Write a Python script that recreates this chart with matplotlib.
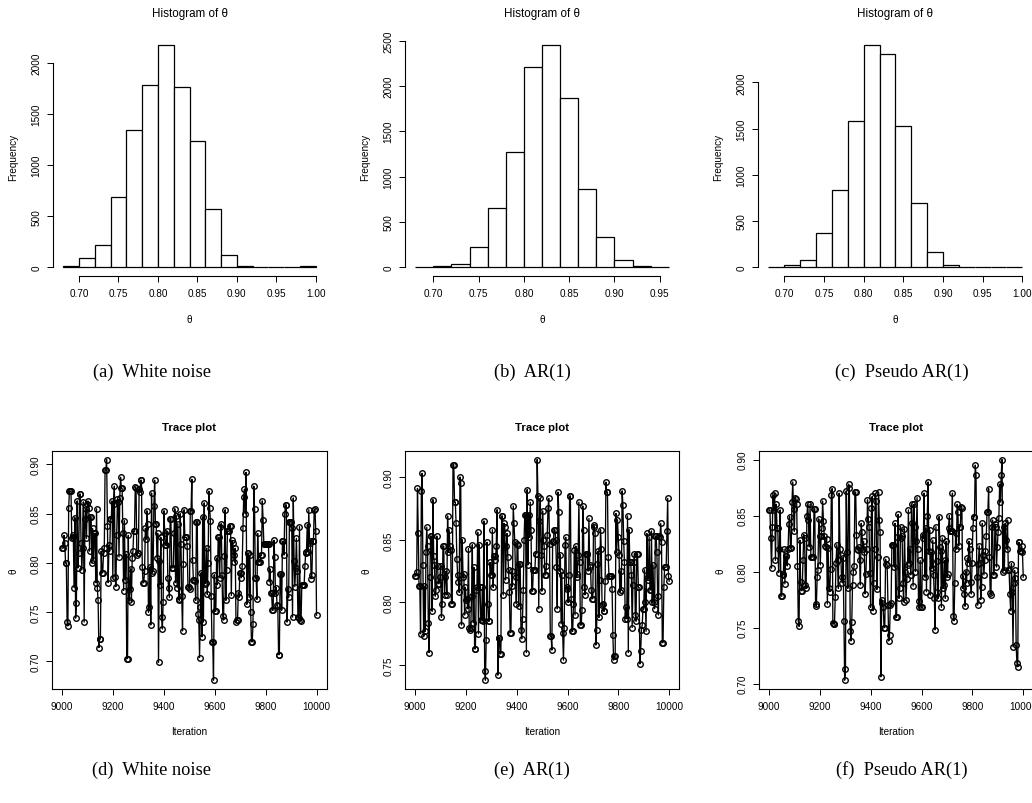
import numpy as np
import matplotlib
matplotlib.use("Agg")
import matplotlib.pyplot as plt

# ---------------------------------------------------------------- data
bin_start = 0.68
bin_width = 0.02

# histogram counts of theta (10000 draws each)
counts_white = [10, 85, 219, 683, 1343, 1781, 2173, 1761, 1232, 569, 118, 15, 5, 2, 3, 8]
counts_ar1 = [3, 8, 40, 225, 652, 1267, 2213, 2448, 1870, 862, 331, 74, 8, 3]
counts_pseudo = [3, 25, 79, 372, 830, 1585, 2401, 2303, 1531, 690, 159, 18, 6, 2, 1, 4]

hist_xticks = [
    [0.70, 0.75, 0.80, 0.85, 0.90, 0.95, 1.00],
    [0.70, 0.75, 0.80, 0.85, 0.90, 0.95],
    [0.70, 0.75, 0.80, 0.85, 0.90, 0.95, 1.00],
]
hist_yticks = [
    [0, 500, 1000, 1500, 2000],
    [0, 500, 1000, 1500, 2000, 2500],
    [0, 500, 1000, 1500, 2000],
]

# last 1000 iterations of each chain
trace_white = [
    0.815, 0.815, 0.828, 0.820, 0.800, 0.800, 0.740, 0.736, 0.856, 0.873, 0.873, 0.873,
    0.825, 0.826, 0.828, 0.775, 0.846, 0.744, 0.759, 0.863, 0.795, 0.810, 0.870, 0.870,
    0.820, 0.793, 0.815, 0.862, 0.740, 0.845, 0.855,
    0.825, 0.860, 0.863, 0.856, 0.812, 0.847, 0.847, 0.800, 0.835, 0.803, 0.830, 0.830,
    0.780, 0.855, 0.775, 0.762, 0.714, 0.723, 0.723, 0.812, 0.790, 0.790, 0.810,
    0.815, 0.894, 0.894, 0.905, 0.838, 0.780, 0.818, 0.812, 0.845, 0.845, 0.863, 0.785,
    0.860, 0.878, 0.786, 0.776, 0.828, 0.865, 0.862, 0.806, 0.866, 0.887, 0.876, 0.876,
    0.830, 0.772,
    0.843, 0.783, 0.809, 0.703, 0.703, 0.828, 0.762, 0.774, 0.794, 0.760, 0.805, 0.812,
    0.832, 0.832, 0.877, 0.876, 0.808, 0.810, 0.810, 0.875, 0.872, 0.884, 0.884, 0.796,
    0.780, 0.780, 0.792,
    0.835, 0.824, 0.853, 0.840, 0.750, 0.755, 0.796, 0.737, 0.871, 0.790, 0.792, 0.858,
    0.884, 0.840, 0.840, 0.805, 0.830, 0.699, 0.802, 0.778, 0.826, 0.745, 0.733, 0.760,
    0.853, 0.830,
    0.818, 0.818, 0.832, 0.785, 0.775, 0.765, 0.845, 0.845, 0.795, 0.795, 0.795, 0.830,
    0.855, 0.780, 0.848, 0.775, 0.840, 0.763, 0.762, 0.850, 0.819, 0.766, 0.731, 0.799,
    0.854, 0.826, 0.826, 0.826, 0.817,
    0.776, 0.776, 0.774, 0.853, 0.853, 0.885, 0.803, 0.783, 0.783, 0.782, 0.762, 0.842,
    0.842, 0.748, 0.742, 0.704, 0.755, 0.790, 0.725, 0.847, 0.740, 0.861, 0.779, 0.780,
    0.815, 0.768, 0.800, 0.873, 0.856, 0.843,
    0.766, 0.720, 0.720, 0.681, 0.788, 0.751, 0.751, 0.805, 0.778, 0.826, 0.826, 0.785,
    0.836, 0.840, 0.788, 0.746, 0.742, 0.807, 0.854, 0.762, 0.793, 0.832, 0.832, 0.832,
    0.838, 0.838, 0.767,
    0.823, 0.820, 0.808, 0.801, 0.815, 0.740, 0.742, 0.742, 0.770, 0.765, 0.790, 0.790,
    0.785, 0.797, 0.835, 0.867, 0.875, 0.850, 0.892, 0.758, 0.810, 0.810, 0.765, 0.808,
    0.750, 0.720, 0.720, 0.738, 0.878, 0.855, 0.785, 0.785, 0.763, 0.830,
    0.801, 0.801, 0.801, 0.808, 0.808, 0.863, 0.844, 0.819, 0.819, 0.819, 0.819, 0.819,
    0.819, 0.819, 0.781, 0.794, 0.769, 0.769, 0.752, 0.752, 0.823, 0.806, 0.770, 0.775,
    0.757, 0.756, 0.707, 0.707, 0.789, 0.789, 0.752,
    0.822, 0.822, 0.808, 0.850, 0.859, 0.859, 0.740, 0.774, 0.765, 0.842, 0.842, 0.842,
    0.835, 0.745, 0.866, 0.802, 0.776, 0.795, 0.825, 0.792, 0.745, 0.744, 0.837, 0.742,
    0.741, 0.778, 0.778, 0.778, 0.778,
    0.797, 0.810, 0.811, 0.839, 0.811, 0.854, 0.820, 0.822, 0.784, 0.788, 0.822, 0.822,
    0.854, 0.855, 0.832, 0.747,
]

trace_ar1 = [
    0.821, 0.821, 0.824, 0.891, 0.855, 0.813, 0.813, 0.775, 0.889, 0.903, 0.830, 0.773,
    0.813, 0.777, 0.840, 0.860, 0.845, 0.784, 0.760, 0.820, 0.853, 0.853, 0.793, 0.882,
    0.837, 0.830, 0.805, 0.810, 0.853, 0.829, 0.815, 0.815, 0.820, 0.829, 0.788, 0.799,
    0.845, 0.845, 0.806, 0.820, 0.825, 0.806, 0.869, 0.840, 0.858, 0.845, 0.842, 0.799,
    0.799, 0.910, 0.910, 0.880, 0.880, 0.863, 0.835, 0.822, 0.816, 0.808, 0.900, 0.895,
    0.782, 0.850, 0.820, 0.823, 0.790, 0.812, 0.802, 0.803, 0.795, 0.843, 0.780, 0.778,
    0.780, 0.805, 0.846, 0.784, 0.828, 0.763, 0.763, 0.810, 0.812, 0.856, 0.775, 0.846,
    0.812, 0.786, 0.786, 0.812, 0.785, 0.865, 0.745, 0.738, 0.770, 0.848, 0.799, 0.785,
    0.785, 0.832, 0.822, 0.822, 0.858, 0.812, 0.837, 0.837, 0.834, 0.845, 0.874, 0.742,
    0.772, 0.772, 0.759, 0.759, 0.869, 0.869, 0.806, 0.863, 0.860, 0.818, 0.845, 0.855,
    0.836, 0.826, 0.808, 0.776, 0.776, 0.825, 0.813, 0.877, 0.863, 0.848, 0.820, 0.799,
    0.847, 0.846, 0.797, 0.831, 0.831, 0.778, 0.771, 0.787, 0.810, 0.850, 0.870, 0.870,
    0.760, 0.890, 0.830, 0.870, 0.852, 0.880, 0.858, 0.809, 0.809, 0.826, 0.826, 0.826,
    0.839, 0.839, 0.914, 0.885, 0.795, 0.865, 0.883, 0.838, 0.809, 0.873, 0.850, 0.845,
    0.822, 0.822, 0.829, 0.854, 0.875, 0.883, 0.847, 0.773, 0.773, 0.762, 0.848, 0.849,
    0.858, 0.858, 0.850, 0.828, 0.795, 0.888, 0.872, 0.825, 0.838, 0.783, 0.822, 0.776,
    0.754, 0.780, 0.846, 0.852, 0.811, 0.812, 0.800, 0.822, 0.885, 0.885, 0.803, 0.777,
    0.777, 0.799, 0.842, 0.790, 0.845, 0.820, 0.823, 0.838, 0.880, 0.832, 0.782, 0.782,
    0.794, 0.877, 0.858, 0.812, 0.806, 0.839, 0.839, 0.839, 0.825, 0.867, 0.830, 0.828,
    0.810, 0.803, 0.803, 0.862, 0.860, 0.855, 0.766, 0.778, 0.831, 0.841, 0.788, 0.818,
    0.858, 0.843, 0.798, 0.799, 0.793, 0.793, 0.817, 0.896, 0.888, 0.888, 0.836, 0.821,
    0.821, 0.821, 0.821, 0.811, 0.774, 0.754, 0.757, 0.757, 0.871, 0.840, 0.866, 0.852,
    0.838, 0.808, 0.825, 0.810, 0.889, 0.878, 0.849, 0.832, 0.787, 0.796, 0.787, 0.869,
    0.760, 0.858, 0.832, 0.832, 0.822, 0.780, 0.814, 0.832, 0.839, 0.790, 0.785, 0.839,
    0.839, 0.812, 0.812, 0.751, 0.761, 0.778, 0.782, 0.795, 0.795, 0.826, 0.800, 0.777,
    0.855, 0.818, 0.820, 0.852, 0.810, 0.810, 0.857, 0.800, 0.830, 0.800, 0.795, 0.853,
    0.853, 0.840, 0.805, 0.790, 0.853, 0.852, 0.863, 0.848, 0.768, 0.768, 0.812, 0.828,
    0.828, 0.828, 0.857, 0.883, 0.821, 0.817,
]

trace_pseudo = [
    0.855, 0.855, 0.830, 0.803, 0.840, 0.868, 0.855, 0.870, 0.810, 0.860, 0.839, 0.839,
    0.799, 0.820, 0.855, 0.778, 0.778, 0.798, 0.797, 0.820, 0.789, 0.814, 0.814, 0.805,
    0.820, 0.842, 0.849, 0.821, 0.821, 0.862, 0.880, 0.856, 0.836, 0.866, 0.865, 0.860,
    0.805, 0.756, 0.751, 0.828, 0.791, 0.783, 0.783, 0.810, 0.833, 0.830, 0.788, 0.785,
    0.850, 0.860, 0.846, 0.822, 0.860, 0.813, 0.813, 0.813, 0.813, 0.856, 0.856, 0.771,
    0.769, 0.795, 0.801, 0.847, 0.832, 0.806, 0.832, 0.839, 0.863, 0.845, 0.832, 0.823,
    0.822, 0.829, 0.771, 0.821, 0.785, 0.782, 0.802, 0.868, 0.874, 0.754, 0.753, 0.753,
    0.777, 0.808, 0.824, 0.810, 0.785, 0.870, 0.820, 0.815, 0.795, 0.790, 0.812, 0.756,
    0.703, 0.713, 0.872, 0.817, 0.785, 0.878, 0.875, 0.747, 0.738, 0.755, 0.788, 0.800,
    0.805, 0.871, 0.871, 0.833, 0.820, 0.819, 0.822, 0.810, 0.788, 0.843, 0.835, 0.820,
    0.827, 0.817, 0.780, 0.798, 0.820, 0.864, 0.847, 0.840, 0.799, 0.768, 0.857, 0.867,
    0.765, 0.790, 0.820, 0.870, 0.863, 0.784, 0.813, 0.871, 0.846, 0.835, 0.706, 0.775,
    0.772, 0.768, 0.750, 0.750, 0.811, 0.807, 0.806, 0.770, 0.738, 0.743, 0.770, 0.772,
    0.824, 0.824, 0.824, 0.804, 0.843, 0.759, 0.759, 0.831, 0.851, 0.776, 0.785, 0.840,
    0.830, 0.832, 0.790, 0.773, 0.838, 0.800, 0.775, 0.793, 0.806, 0.855, 0.808, 0.820,
    0.797, 0.860, 0.843, 0.787, 0.860, 0.840, 0.800, 0.827, 0.866, 0.820, 0.768, 0.774,
    0.810, 0.768, 0.768, 0.833, 0.830, 0.870, 0.795, 0.839, 0.782, 0.850, 0.880, 0.818,
    0.837, 0.779, 0.817, 0.803, 0.828, 0.797, 0.776, 0.748, 0.840, 0.809, 0.782, 0.776,
    0.849, 0.822, 0.818, 0.768, 0.830, 0.785, 0.788, 0.810, 0.776, 0.827, 0.795, 0.798,
    0.839, 0.850, 0.836, 0.836, 0.836, 0.870, 0.760, 0.756, 0.790, 0.834, 0.820, 0.860,
    0.853, 0.823, 0.840, 0.840, 0.858, 0.857, 0.785, 0.796, 0.780, 0.769, 0.800, 0.790,
    0.812, 0.808, 0.827, 0.820, 0.791, 0.780, 0.808, 0.839, 0.849, 0.849, 0.895, 0.886,
    0.795, 0.770, 0.807, 0.823, 0.808, 0.775, 0.786, 0.843, 0.815, 0.797, 0.810, 0.818,
    0.832, 0.853, 0.853, 0.874, 0.813, 0.781, 0.779, 0.840, 0.846, 0.797, 0.797, 0.842,
    0.840, 0.804, 0.822, 0.835, 0.848, 0.878, 0.862, 0.886, 0.900, 0.800, 0.840, 0.801,
    0.843, 0.828, 0.820, 0.846, 0.801, 0.801, 0.780, 0.765, 0.807, 0.782, 0.733, 0.790,
    0.801, 0.794, 0.734, 0.718, 0.715, 0.826, 0.826, 0.818, 0.818, 0.823, 0.817, 0.795,
]

iter_first, iter_last = 9001, 10000
trace_xticks = [9000, 9200, 9400, 9600, 9800, 10000]
trace_yticks = [
    [0.70, 0.75, 0.80, 0.85, 0.90],
    [0.75, 0.80, 0.85, 0.90],
    [0.70, 0.75, 0.80, 0.85, 0.90],
]

captions_top = ["(a)  White noise", "(b)  AR(1)", "(c)  Pseudo AR(1)"]
captions_bottom = ["(d)  White noise", "(e)  AR(1)", "(f)  Pseudo AR(1)"]

# ---------------------------------------------------------------- layout
W, H, DPI = 1032, 804, 100
plt.rcParams["font.family"] = ["Liberation Sans", "DejaVu Sans"]
fig = plt.figure(figsize=(W / DPI, H / DPI), dpi=DPI, facecolor="white")

TICK_FS = 7.2
TITLE_FS = 8.4
CAPTION_FS = 13.2
SERIF = ["Liberation Serif", "DejaVu Serif"]


def px_axes(x0, x1, y0, y1):
    return fig.add_axes([x0 / W, 1 - y1 / H, (x1 - x0) / W, (y1 - y0) / H])


def fig_text(x, y, s, **kw):
    fig.text(x / W, 1 - y / H, s, ha="center", va="center", **kw)


def r_ticks(ax):
    ax.tick_params(direction="out", length=4.3, width=0.7, labelsize=TICK_FS,
                   pad=4.2, color="black")
    ax.tick_params(axis="y", labelrotation=90)
    for lab in ax.get_yticklabels():
        lab.set_va("center")


def r_expand(lo, hi):
    d = 0.04 * (hi - lo)
    return lo - d, hi + d


hist_cols = [(53.0, 326.0), (405.0, 679.0), (758.3, 1032.5)]
hist_counts = [counts_white, counts_ar1, counts_pseudo]

for (x0, x1), counts, xt, yt in zip(hist_cols, hist_counts, hist_xticks, hist_yticks):
    ax = px_axes(x0, x1, 37.5, 277.0)
    edges = bin_start + bin_width * np.arange(len(counts) + 1)
    ax.bar(edges[:-1], counts, width=bin_width, align="edge",
           facecolor="white", edgecolor="black", linewidth=0.9)
    ax.set_xlim(*r_expand(edges[0], edges[-1]))
    ax.set_ylim(*r_expand(0, max(counts)))
    ax.set_xticks(xt)
    ax.set_xticklabels([f"{v:.2f}" for v in xt])
    ax.set_yticks(yt)
    ax.set_yticklabels([str(v) for v in yt])
    for side in ("top", "right"):
        ax.spines[side].set_visible(False)
    ax.spines["left"].set_bounds(yt[0], yt[-1])
    ax.spines["bottom"].set_bounds(xt[0], xt[-1])
    for side in ("left", "bottom"):
        ax.spines[side].set_linewidth(0.8)
    r_ticks(ax)
    cx = (x0 + x1) / 2
    fig_text(cx, 14, "Histogram of \u03b8", fontsize=TITLE_FS)
    fig_text(cx, 320, "\u03b8", fontsize=TICK_FS)
    fig_text(x0 - 40, 157, "Frequency", fontsize=TICK_FS, rotation=90)

trace_cols = [(52.3, 326.7), (405.0, 679.4), (759.0, 1033.4)]
traces = [trace_white, trace_ar1, trace_pseudo]

for (x0, x1), vals, yt in zip(trace_cols, traces, trace_yticks):
    ax = px_axes(x0, x1, 451.7, 690.0)
    vals = np.asarray(vals)
    iters = np.linspace(iter_first, iter_last, len(vals))
    ax.plot(iters, vals, color="black", linewidth=0.95, marker="o",
            markersize=4.0, markerfacecolor="none", markeredgecolor="black",
            markeredgewidth=1.0)
    ax.set_xlim(*r_expand(iter_first, iter_last))
    ax.set_ylim(*r_expand(vals.min(), vals.max()))
    ax.set_xticks(trace_xticks)
    ax.set_xticklabels([str(v) for v in trace_xticks])
    ax.set_yticks(yt)
    ax.set_yticklabels([f"{v:.2f}" for v in yt])
    for sp in ax.spines.values():
        sp.set_linewidth(0.8)
    r_ticks(ax)
    cx = (x0 + x1) / 2
    fig_text(cx, 428, "Trace plot", fontsize=TITLE_FS - 0.2, fontweight="bold")
    fig_text(cx, 732, "Iteration", fontsize=TICK_FS)
    fig_text(x0 - 39, 571, "\u03b8", fontsize=TICK_FS, rotation=90)

cap_x = [152, 532, 902]
for cx, t in zip(cap_x, captions_top):
    fig_text(cx, 372, t, fontsize=CAPTION_FS, family=SERIF)
for cx, t in zip(cap_x, captions_bottom):
    fig_text(cx, 770, t, fontsize=CAPTION_FS, family=SERIF)

fig.savefig("out.png", dpi=DPI, facecolor="white")
